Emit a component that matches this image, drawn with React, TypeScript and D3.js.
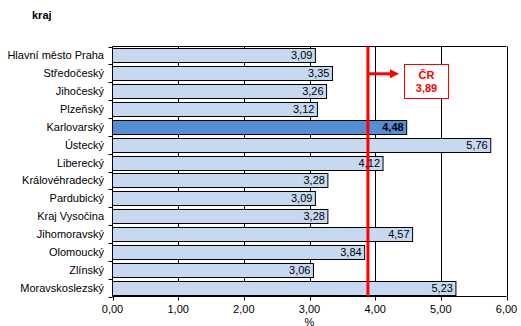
import React from "react";
import * as d3 from "d3";

const categories = [
  "Hlavní město Praha",
  "Středočeský",
  "Jihočeský",
  "Plzeňský",
  "Karlovarský",
  "Ústecký",
  "Liberecký",
  "Královéhradecký",
  "Pardubický",
  "Kraj Vysočina",
  "Jihomoravský",
  "Olomoucký",
  "Zlínský",
  "Moravskoslezský",
];
const values = [3.09, 3.35, 3.26, 3.12, 4.48, 5.76, 4.12, 3.28, 3.09, 3.28, 4.57, 3.84, 3.06, 5.23];
const highlight = ["Karlovarský"];
const crValue = 3.89;
const crLabel = "ČR";
const xTicks = [0, 1, 2, 3, 4, 5, 6];
const title = "kraj";
const xTitle = "%";

const W = 521;
const H = 326;
const M = { left: 112.5, right: 14.5, top: 46.5, bottom: 29.5 };

const fmt = (v: number) => v.toFixed(2).replace(".", ",");

export default function App() {
  const x = d3.scaleLinear().domain([0, 6]).range([M.left, W - M.right]);
  const y = d3.scaleBand<string>().domain(categories).range([M.top, H - M.bottom]).paddingInner(0.22).paddingOuter(0.11);
  const font = "'Liberation Sans', Arial, sans-serif";
  const step = y.step();
  const top = M.top;
  const bottom = H - M.bottom;
  const right = W - M.right;
  const crX = x(crValue);
  const arrowY = y(categories[1])! + y.bandwidth() / 2 + 0.5;
  return (
    <svg width={W} height={H} style={{ position: "absolute", left: 0, top: 0 }} fontFamily={font}>
      <rect x={0} y={0} width={W} height={H} fill="#fff" />
      <text x={32} y={19} fontSize={11} fontWeight="bold" fill="#000">{title}</text>
      {/* gridlines */}
      {xTicks.slice(1).map((t) => (
        <line key={t} x1={Math.round(x(t)) + 0.5} x2={Math.round(x(t)) + 0.5} y1={top} y2={bottom} stroke="#000" strokeWidth={1} />
      ))}
      <line x1={M.left} x2={right} y1={top} y2={top} stroke="#000" />
      {/* bars */}
      {categories.map((c, i) => {
        const hi = highlight.includes(c);
        const yy = y(c)!;
        return (
          <g key={c}>
            <rect x={x(0)} y={Math.round(yy) + 0.5} width={x(values[i]) - x(0)} height={Math.round(y.bandwidth())} fill={hi ? "#558ED5" : "#C6D9F1"} stroke="#000" strokeWidth={1} />
            <text x={104} y={yy + y.bandwidth() / 2 + 4} fontSize={11} textAnchor="end" fill="#000">{c}</text>
          </g>
        );
      })}
      {/* axes */}
      <line x1={M.left} x2={M.left} y1={top} y2={bottom} stroke="#000" />
      <line x1={M.left} x2={right} y1={bottom} y2={bottom} stroke="#000" />
      {d3.range(categories.length + 1).map((i) => {
        const yy = Math.round(top + i * step) + 0.5;
        return <line key={i} x1={M.left - 4} x2={M.left} y1={yy} y2={yy} stroke="#000" />;
      })}
      {xTicks.map((t) => (
        <g key={t}>
          <line x1={Math.round(x(t)) + 0.5} x2={Math.round(x(t)) + 0.5} y1={bottom} y2={bottom + 4} stroke="#000" />
          <text x={x(t)} y={bottom + 16} fontSize={11} textAnchor="middle" fill="#000">{fmt(t)}</text>
        </g>
      ))}
      <text x={(M.left + right) / 2} y={H - 0.5} fontSize={11} textAnchor="middle" fill="#000">{xTitle}</text>
      {/* CR line */}
      <line x1={crX} x2={crX} y1={top} y2={bottom} stroke="#FF0000" strokeWidth={3} />
      <line x1={crX} x2={391} y1={arrowY} y2={arrowY} stroke="#FF0000" strokeWidth={3} />
      <path d={`M390,${arrowY - 4.5} L399,${arrowY} L390,${arrowY + 4.5} Z`} fill="#FF0000" />
      <rect x={404.5} y={64.5} width={44} height={34} fill="#fff" stroke="#FF0000" strokeWidth={1} />
      <text x={426.5} y={79} fontSize={11} fontWeight="bold" textAnchor="middle" fill="#FF0000">{crLabel}</text>
      <text x={426.5} y={92} fontSize={11} fontWeight="bold" textAnchor="middle" fill="#FF0000">{fmt(crValue)}</text>
      {/* value labels */}
      {categories.map((c, i) => {
        const hi = highlight.includes(c);
        const yy = y(c)!;
        return (
          <text key={c} x={x(values[i]) - 3} y={yy + y.bandwidth() / 2 + 4} fontSize={11} textAnchor="end" fontWeight={hi ? "bold" : "normal"} fill="#000">{fmt(values[i])}</text>
        );
      })}
    </svg>
  );
}
